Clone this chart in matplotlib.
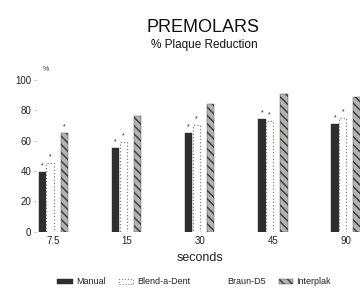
import matplotlib
matplotlib.use("Agg")
import matplotlib.pyplot as plt
from matplotlib.patches import Rectangle
import numpy as np

plt.rcParams['font.family'] = ['Liberation Sans', 'DejaVu Sans']
plt.rcParams['hatch.linewidth'] = 1.1

# ---- data ----
categories = ["7.5", "15", "30", "45", "90"]
manual = [39, 55, 65, 74, 71]
blend_a_dent = [45, 59, 70, 73, 75]
interplak = [65, 76, 84, 91, 89]
# significance markers (*) above bars
manual_star = [True, True, True, True, True]
blend_star = [True, True, True, True, True]
interplak_star = [True, False, False, False, False]
yticks = [0, 20, 40, 60, 80, 100]
legend_labels = ["Manual", "Blend-a-Dent", "Braun-D5", "Interplak"]

fig = plt.figure(figsize=(3.6, 2.99), dpi=100)
ax = fig.add_axes([0.1, 0.225, 0.9, 0.508])

x = np.arange(len(categories))
w = 0.1
off_m, off_b, off_i = -0.15, -0.045, 0.15

ax.bar(x + off_m, manual, w, color='#2e2e2e', edgecolor='#2e2e2e', linewidth=0.3)
ax.bar(x + off_b, blend_a_dent, w, color='white', edgecolor='#808080', linewidth=0.9, linestyle=':')
ax.bar(x + off_i, interplak, w, color='#b2b4b2', edgecolor='#404040', linewidth=0.3, hatch='\\\\\\\\')

def stars(offs, vals, flags):
    for xi, v, f in zip(x + offs, vals, flags):
        if f:
            ax.annotate('*', (xi, v), xytext=(0, 2), textcoords='offset points',
                        ha='center', va='bottom', fontsize=5, color='#222')

stars(off_m, manual, manual_star)
stars(off_b, blend_a_dent, blend_star)
stars(off_i, interplak, interplak_star)

ax.set_xlim(-0.236, 4.19)
ax.set_ylim(0, 100)
ax.set_yticks(yticks)
ax.set_yticklabels([str(t) for t in yticks], fontsize=7, color='#222')
ax.set_xticks(x)
ax.set_xticklabels(categories, fontsize=7, color='#222')
ax.tick_params(axis='y', length=1.5, width=0.5, color='#999', pad=2)
ax.tick_params(axis='x', length=0, pad=3)
for s in ax.spines.values():
    s.set_visible(False)

fig.text(0.118, 0.768, '%', fontsize=5, color='#333', ha='left', va='center')
fig.text(0.565, 0.909, 'PREMOLARS', fontsize=13, ha='center', va='center', color='#111')
fig.text(0.567, 0.850, '% Plaque Reduction', fontsize=8.5, ha='center', va='center', color='#111')
fig.text(0.556, 0.137, 'seconds', fontsize=9, ha='center', va='center', color='#222')

# legend (manual placement)
ly = 0.057
fig.add_artist(Rectangle((0.158, 0.049), 0.044, 0.017, transform=fig.transFigure,
                         facecolor='#2e2e2e', edgecolor='#2e2e2e', linewidth=0.3))
fig.text(0.211, ly, legend_labels[0], fontsize=6.5, va='center', ha='left', color='#222')
fig.add_artist(Rectangle((0.331, 0.049), 0.039, 0.017, transform=fig.transFigure,
                         facecolor='white', edgecolor='#808080', linewidth=0.8, linestyle=':'))
fig.text(0.381, ly, legend_labels[1], fontsize=6.5, va='center', ha='left', color='#222')
fig.text(0.631, ly, legend_labels[2], fontsize=6.5, va='center', ha='left', color='#222')
fig.add_artist(Rectangle((0.775, 0.049), 0.039, 0.017, transform=fig.transFigure,
                         facecolor='#b2b4b2', edgecolor='#404040', linewidth=0.3, hatch='\\\\\\\\'))
fig.text(0.822, ly, legend_labels[3], fontsize=6.5, va='center', ha='left', color='#222')

fig.savefig('out.png', dpi=100)
